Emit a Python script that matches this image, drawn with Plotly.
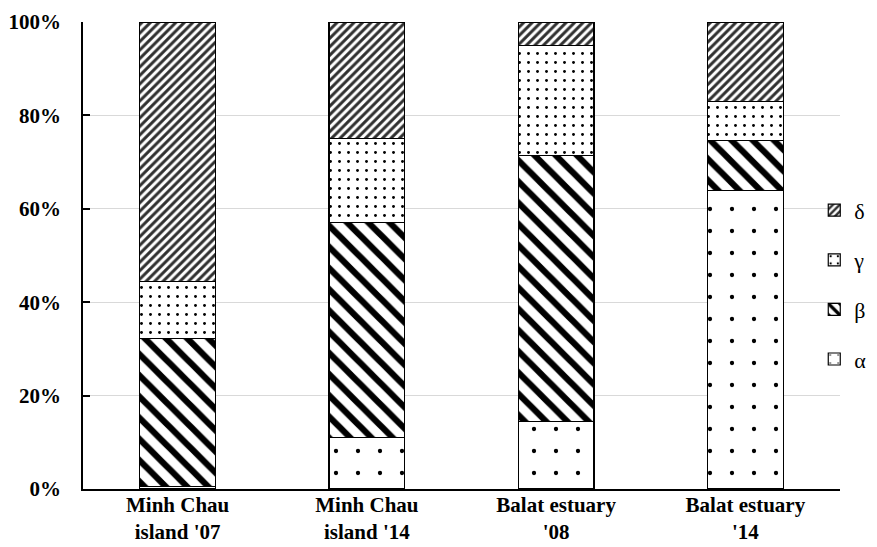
import plotly.graph_objects as go

categories = ["Minh Chau<br>island '07", "Minh Chau<br>island '14", "Balat estuary<br>'08", "Balat estuary<br>'14"]
alpha = [0.5, 11.0, 14.5, 64.0]
beta = [31.8, 46.0, 57.0, 10.7]
gamma = [12.2, 18.0, 23.5, 8.2]
delta = [55.5, 25.0, 5.0, 17.1]
series_names = ["α", "β", "γ", "δ"]
y_ticks = [0, 20, 40, 60, 80, 100]
y_tick_text = ["0%", "20%", "40%", "60%", "80%", "100%"]

patterns = [
    dict(shape=".", size=22, solidity=0.03, fgcolor="black", bgcolor="white", fgopacity=1, fillmode="replace"),
    dict(shape="\\", size=15, solidity=0.42, fgcolor="black", bgcolor="white", fgopacity=1, fillmode="replace"),
    dict(shape=".", size=9, solidity=0.08, fgcolor="black", bgcolor="white", fgopacity=1, fillmode="replace"),
    dict(shape="/", size=6, solidity=0.5, fgcolor="#303030", bgcolor="white", fgopacity=1, fillmode="replace"),
]
ranks = [4, 3, 2, 1]

fig = go.Figure()
for name, vals, pat, rk in zip(series_names, [alpha, beta, gamma, delta], patterns, ranks):
    fig.add_trace(go.Bar(
        x=categories, y=vals, name=name, legendgroup=name, legendrank=rk,
        marker=dict(color="white", line=dict(color="black", width=1.2), pattern=pat),
    ))

fig.update_layout(
    barmode="stack",
    bargap=0.6,
    width=877, height=547,
    margin=dict(l=83, r=37, t=22, b=58, autoexpand=False),
    plot_bgcolor="white", paper_bgcolor="white",
    font=dict(family="Liberation Serif", color="black"),
    legend=dict(x=0.966, xanchor="left", y=0.437, yanchor="middle",
                traceorder="grouped", tracegroupgap=18,
                font=dict(size=22, family="Liberation Serif"),
                bgcolor="rgba(0,0,0,0)"),
    showlegend=True,
)
fig.update_yaxes(range=[0, 100], tickvals=y_ticks, ticktext=y_tick_text,
                 showgrid=True, gridcolor="#d9d9d9", gridwidth=1,
                 showline=True, linecolor="black", linewidth=1.5,
                 ticks="inside", ticklen=7, tickcolor="black", tickwidth=1.5,
                 ticklabelstandoff=16,
                 tickfont=dict(size=21, family="Liberation Serif", weight="bold"),
                 zeroline=False, automargin=False)
fig.update_xaxes(showline=True, linecolor="black", linewidth=1.5,
                 tickfont=dict(size=21, family="Liberation Serif", weight="bold"),
                 ticklabelstandoff=-4,
                 ticks="", automargin=False)

fig.write_html("out.html", config={"displayModeBar": False},
               post_script="document.body.style.margin='0';document.body.style.overflow='hidden';")
